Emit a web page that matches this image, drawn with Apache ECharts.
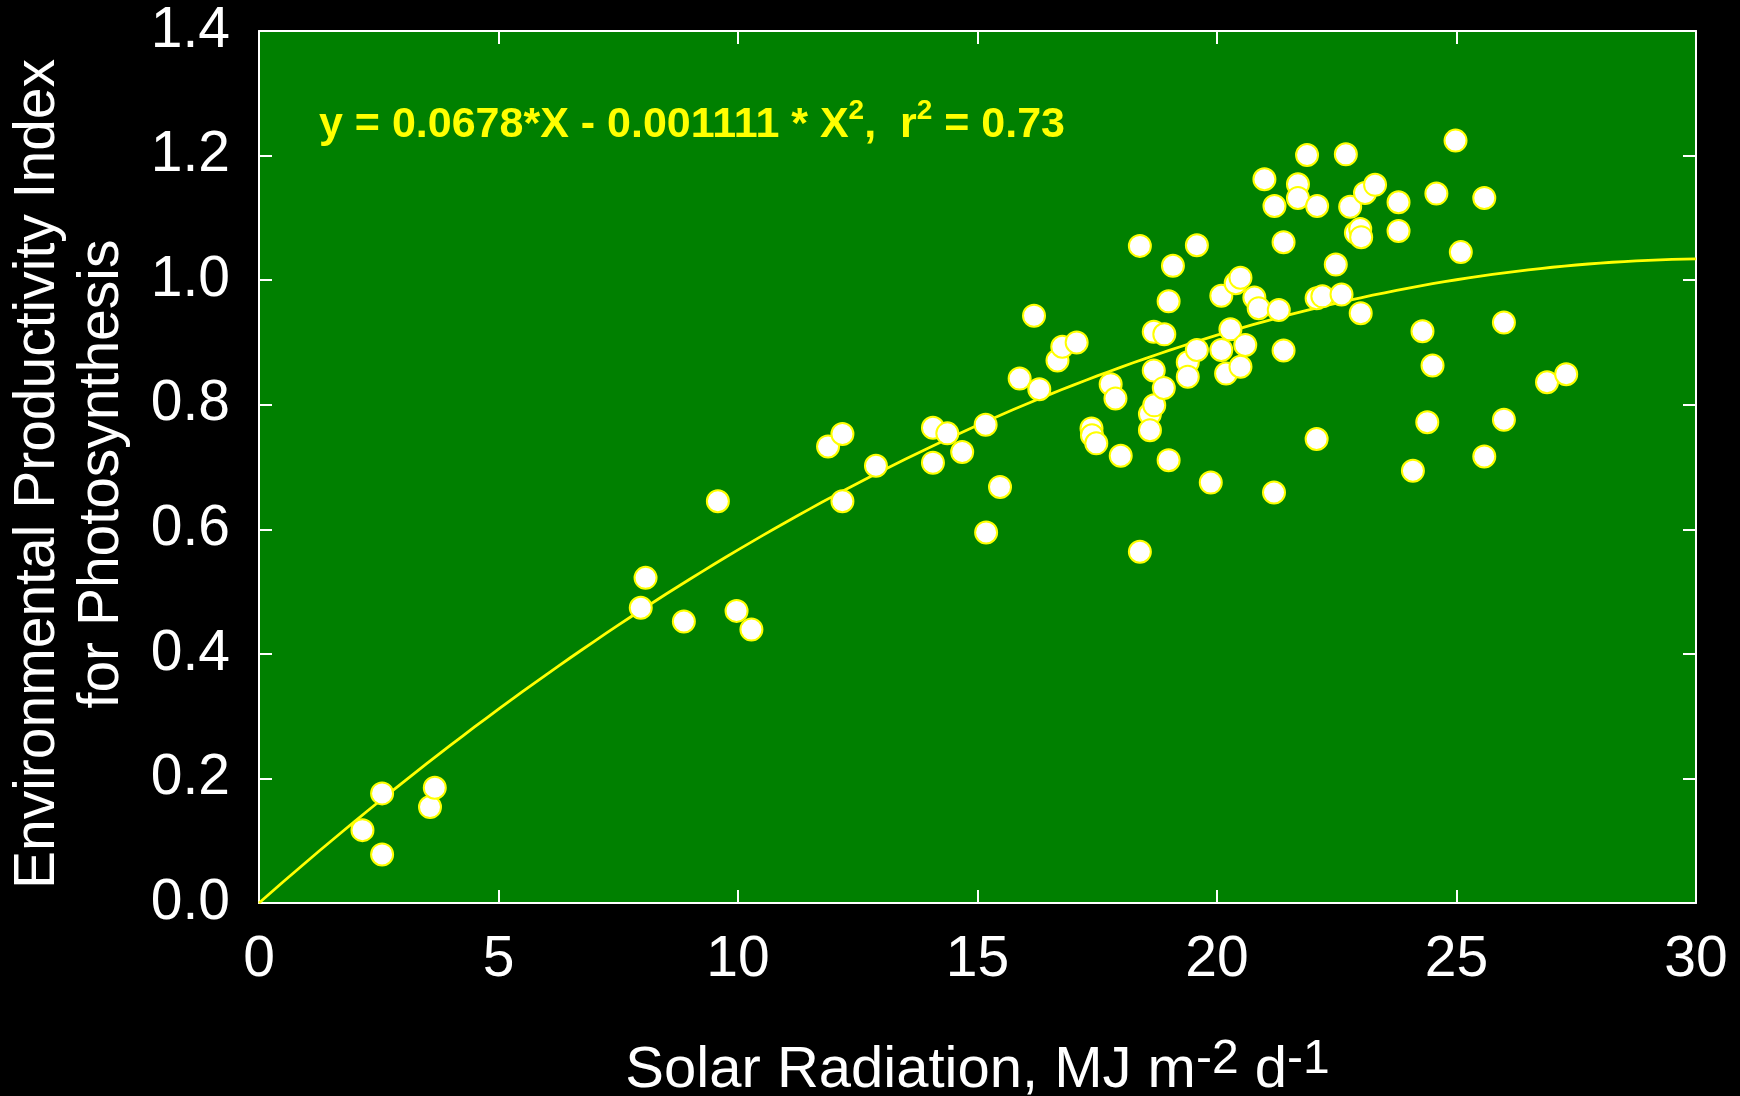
<!DOCTYPE html>
<html>
<head>
<meta charset="utf-8">
<script src="https://cdn.jsdelivr.net/npm/echarts@6/dist/echarts.min.js"></script>
<style>
html,body{margin:0;padding:0;background:#000;}
#chart{width:1740px;height:1096px;}
</style>
</head>
<body>
<div id="chart"></div>
<script>
// Observed data: solar radiation (MJ m-2 d-1) and EPI for photosynthesis
const solarRadiation = [
  2.16, 2.57, 2.57, 3.57, 3.67, 7.97, 8.07, 8.87, 9.58, 9.97,
  10.28, 11.88, 12.18, 12.18, 12.88, 14.07, 14.07, 14.37, 14.68, 15.17,
  15.18, 15.47, 15.88, 16.18, 16.29, 16.67, 16.77, 17.07, 17.38, 17.39,
  17.48, 17.78, 17.88, 17.99, 18.39, 18.39, 18.60, 18.60, 18.68, 18.68,
  18.69, 18.89, 18.90, 18.99, 18.99, 19.08, 19.39, 19.39, 19.58, 19.58,
  19.87, 20.09, 20.09, 20.19, 20.28, 20.39, 20.49, 20.49, 20.59, 20.78,
  20.87, 20.99, 21.19, 21.20, 21.29, 21.39, 21.39, 21.69, 21.69, 21.88,
  22.08, 22.08, 22.09, 22.20, 22.48, 22.60, 22.69, 22.78, 22.90, 22.99,
  23.00, 23.01, 23.09, 23.30, 23.79, 23.79, 24.09, 24.29, 24.39, 24.50,
  24.58, 24.98, 25.09, 25.58, 25.58, 25.99, 25.99, 26.89, 27.29
];
const epiValues = [
  0.117, 0.176, 0.078, 0.154, 0.185, 0.474, 0.522, 0.452, 0.645, 0.469,
  0.439, 0.733, 0.753, 0.645, 0.702, 0.763, 0.707, 0.754, 0.724, 0.768,
  0.595, 0.668, 0.842, 0.943, 0.825, 0.871, 0.893, 0.900, 0.762, 0.751,
  0.738, 0.833, 0.810, 0.718, 1.055, 0.564, 0.785, 0.759, 0.917, 0.855,
  0.799, 0.827, 0.913, 0.966, 0.711, 1.023, 0.868, 0.845, 1.056, 0.888,
  0.675, 0.975, 0.888, 0.850, 0.921, 0.995, 1.004, 0.861, 0.896, 0.972,
  0.955, 1.162, 0.659, 1.119, 0.952, 1.061, 0.887, 1.154, 1.132, 1.201,
  0.971, 0.745, 1.119, 0.974, 1.025, 0.977, 1.202, 1.118, 1.076, 1.082,
  0.947, 1.069, 1.140, 1.153, 1.125, 1.079, 0.694, 0.918, 0.772, 0.863,
  1.139, 1.224, 1.045, 1.132, 0.717, 0.932, 0.776, 0.836, 0.849
];
// Fitted curve as printed on the chart: y = 0.0678*X - 0.001111*X^2
const fitA = 0.0678;
const fitB = 0.001111;
const xTicks = [0, 5, 10, 15, 20, 25, 30];
const yTicks = [0.0, 0.2, 0.4, 0.6, 0.8, 1.0, 1.2, 1.4];

const scatterData = solarRadiation.map((x, i) => [x, epiValues[i]]);
const fitData = [];
for (let i = 0; i <= 120; i++) {
  const x = i * 0.25;
  fitData.push([x, fitA * x - fitB * x * x]);
}

const FONT = 'Liberation Sans';
const chart = echarts.init(document.getElementById('chart'));
const axisLineStyle = { color: '#ffffff', width: 2 };
chart.setOption({
  backgroundColor: '#000000',
  animation: false,
  grid: {
    left: 259, right: 44, top: 31, bottom: 193,
    containLabel: false, outerBoundsMode: 'none',
    show: true, backgroundColor: '#008000', borderWidth: 0
  },
  xAxis: [{
    type: 'value', min: xTicks[0], max: xTicks[xTicks.length - 1], interval: 5,
    position: 'bottom',
    axisLine: { show: true, onZero: false, lineStyle: axisLineStyle },
    axisTick: { show: true, inside: true, length: 13, lineStyle: axisLineStyle },
    splitLine: { show: false },
    axisLabel: { color: '#ffffff', fontFamily: FONT, fontSize: 57, margin: 29 },
    name: '{a|Solar Radiation, MJ m}{s|-2}{a| d}{s|-1}',
    nameLocation: 'middle', nameGap: 133,
    nameTextStyle: {
      color: '#ffffff', fontFamily: FONT,
      rich: {
        a: { color: '#ffffff', fontFamily: FONT, fontSize: 58, lineHeight: 64, verticalAlign: 'bottom' },
        s: { color: '#ffffff', fontFamily: FONT, fontSize: 48, lineHeight: 64, verticalAlign: 'top', padding: [0, 0, 16, 0] }
      }
    }
  }, {
    type: 'value', min: 0, max: 30, interval: 5, position: 'top',
    axisLine: { show: true, onZero: false, lineStyle: axisLineStyle },
    axisTick: { show: true, inside: true, length: 13, lineStyle: axisLineStyle },
    axisLabel: { show: false }, splitLine: { show: false }
  }],
  yAxis: [{
    type: 'value', min: yTicks[0], max: yTicks[yTicks.length - 1], interval: 0.2,
    position: 'left',
    axisLine: { show: true, onZero: false, lineStyle: axisLineStyle },
    axisTick: { show: true, inside: true, length: 13, lineStyle: axisLineStyle },
    splitLine: { show: false },
    axisLabel: {
      color: '#ffffff', fontFamily: FONT, fontSize: 57, margin: 29,
      formatter: v => v.toFixed(1)
    },
    name: 'Environmental Productivity Index\nfor Photosynthesis',
    nameLocation: 'middle', nameGap: 125,
    nameTextStyle: { color: '#ffffff', fontFamily: FONT, fontSize: 57, lineHeight: 64, padding: [0, 14, 0, 0] }
  }, {
    type: 'value', min: 0, max: 1.4, interval: 0.2, position: 'right',
    axisLine: { show: true, onZero: false, lineStyle: axisLineStyle },
    axisTick: { show: true, inside: true, length: 13, lineStyle: axisLineStyle },
    axisLabel: { show: false }, splitLine: { show: false }
  }],
  graphic: [{
    type: 'text', left: 319, top: 97, z: 100,
    style: {
      text: '{a|y = 0.0678*X - 0.001111 * X}{s|2}{a|,  r}{s|2}{a| = 0.73}',
      rich: {
        a: { fill: '#ffff00', fontFamily: FONT, fontWeight: 'bold', fontSize: 43, lineHeight: 50, verticalAlign: 'bottom' },
        s: { fill: '#ffff00', fontFamily: FONT, fontWeight: 'bold', fontSize: 28, lineHeight: 50, verticalAlign: 'top', padding: [0, 0, 10, 0] }
      }
    }
  }],
  series: [{
    type: 'line', data: fitData, showSymbol: false, smooth: false,
    lineStyle: { color: '#ffff00', width: 2.8 }, z: 2, silent: true
  }, {
    type: 'scatter', data: scatterData, symbol: 'circle', symbolSize: 22,
    itemStyle: { color: '#ffffff', borderColor: '#ffff00', borderWidth: 2, opacity: 1 },
    z: 3
  }]
});
</script>
</body>
</html>
